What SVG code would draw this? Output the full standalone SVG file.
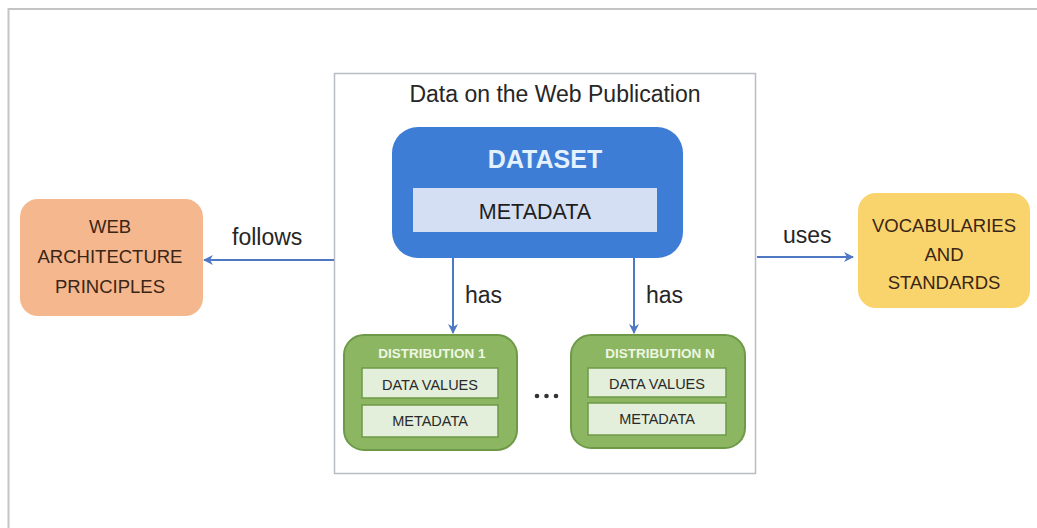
<svg xmlns="http://www.w3.org/2000/svg" width="1037" height="528" viewBox="0 0 1037 528">
<defs>
<style>
.lbl{font-family:"Liberation Sans",Arial,sans-serif;font-size:23px;fill:#262626}
.cal{font-family:"Liberation Sans",Arial,sans-serif}
.conn{stroke:#4f78c4;stroke-width:2;fill:none}
.inner{fill:#e3eedb;stroke:#6e9a48;stroke-width:1.5}
.dist{fill:#8db663;stroke:#6e9a48;stroke-width:2}
.dtitle{font-family:"Liberation Sans",Arial,sans-serif;font-weight:bold;font-size:13.5px;fill:#eef7e2;text-anchor:middle}
.dtext{font-family:"Liberation Sans",Arial,sans-serif;font-size:14.5px;fill:#2a2a2a;text-anchor:middle}
.ntext{font-family:"Liberation Sans",Arial,sans-serif;font-size:18.5px;fill:#3a2616;text-anchor:middle}
</style>
<marker id="ah" viewBox="0 0 10 10" refX="9" refY="5" markerWidth="6" markerHeight="6" orient="auto-start-reverse" markerUnits="userSpaceOnUse">
<path d="M0,0 L10,5 L0,10 z" fill="#4f78c4"/>
</marker>
<marker id="ah2" viewBox="0 0 10 10" refX="9" refY="5" markerWidth="10" markerHeight="10" orient="auto" markerUnits="userSpaceOnUse">
<path d="M0,0 L10,5 L0,10 L3,5 z" fill="#4f78c4"/>
</marker>
</defs>
<rect x="0" y="0" width="1037" height="528" fill="#ffffff"/>
<path d="M8.5,528 V9 H1037" fill="none" stroke="#c4c4c4" stroke-width="2"/>

<g id="publication">
<rect x="334.5" y="73.5" width="421" height="400" fill="#ffffff" stroke="#b8bcc4" stroke-width="1.5"/>
<text x="555" y="102" class="lbl" text-anchor="middle">Data on the Web Publication</text>
</g>

<g id="dataset">
<rect x="392" y="127" width="291" height="131" rx="26" fill="#3d7dd6"/>
<text x="545" y="168" class="cal" font-size="25" font-weight="bold" fill="#e4f1ff" text-anchor="middle">DATASET</text>
<rect x="413" y="188" width="244" height="44" fill="#d5dff3"/>
<text x="535" y="219" class="cal" font-size="21.5" fill="#1e1e1e" text-anchor="middle">METADATA</text>
</g>

<g id="distribution1">
<rect x="344" y="335" width="173" height="115" rx="20" class="dist"/>
<text x="432" y="358" class="dtitle">DISTRIBUTION 1</text>
<rect x="362" y="368" width="136" height="30" class="inner"/>
<text x="430" y="390" class="dtext">DATA VALUES</text>
<rect x="362" y="405" width="136" height="32" class="inner"/>
<text x="430" y="426" class="dtext">METADATA</text>
</g>

<g id="distributionN">
<rect x="571" y="335" width="174" height="113" rx="20" class="dist"/>
<text x="660" y="358" class="dtitle">DISTRIBUTION N</text>
<rect x="588" y="368" width="138" height="29" class="inner"/>
<text x="657" y="389" class="dtext">DATA VALUES</text>
<rect x="588" y="403" width="138" height="32" class="inner"/>
<text x="657" y="424" class="dtext">METADATA</text>
</g>

<g id="ellipsis">
<circle cx="537" cy="396" r="2.3" fill="#333"/>
<circle cx="546.5" cy="396" r="2.3" fill="#333"/>
<circle cx="556" cy="396" r="2.3" fill="#333"/>
</g>

<g id="webarch">
<rect x="20" y="199" width="183" height="117" rx="18" fill="#f5b78d"/>
<text x="110" y="233" class="ntext">WEB</text>
<text x="110" y="263" class="ntext">ARCHITECTURE</text>
<text x="110" y="293" class="ntext">PRINCIPLES</text>
</g>

<g id="vocab">
<rect x="858" y="193" width="172" height="115" rx="18" fill="#f9d46c"/>
<text x="944" y="232" class="ntext">VOCABULARIES</text>
<text x="944" y="261" class="ntext">AND</text>
<text x="944" y="289" class="ntext">STANDARDS</text>
</g>

<g id="connectors">
<line x1="334" y1="260" x2="204" y2="260" class="conn" marker-end="url(#ah2)"/>
<text x="232" y="245" class="lbl">follows</text>
<line x1="757" y1="257" x2="853" y2="257" class="conn" marker-end="url(#ah2)"/>
<text x="783" y="243" class="lbl">uses</text>
<line x1="453" y1="258" x2="453" y2="333" class="conn" marker-end="url(#ah2)"/>
<text x="465" y="303" class="lbl">has</text>
<line x1="634" y1="258" x2="634" y2="333" class="conn" marker-end="url(#ah2)"/>
<text x="646" y="303" class="lbl">has</text>
</g>
</svg>
